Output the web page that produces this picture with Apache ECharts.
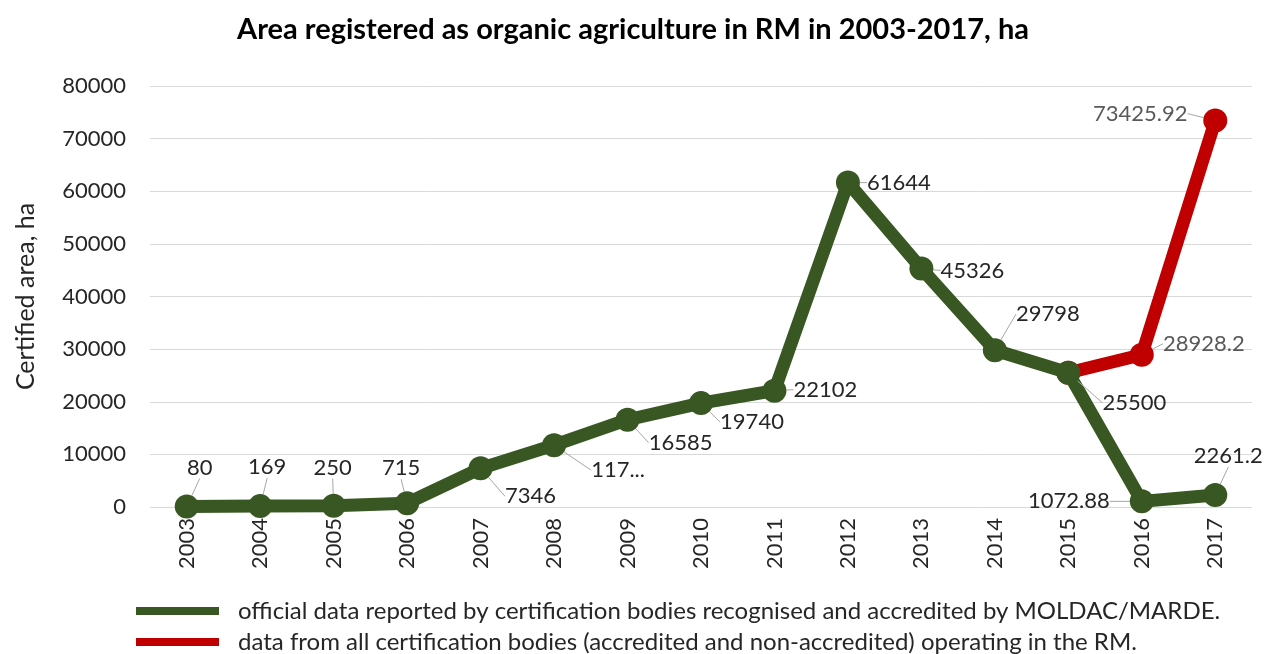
<!DOCTYPE html>
<html>
<head>
<meta charset="utf-8">
<script src="https://cdn.jsdelivr.net/npm/echarts@6/dist/echarts.min.js"></script>
<style>
  html, body { margin: 0; padding: 0; background: #fff; }
  #chart { width: 1266px; height: 654px; }
</style>
</head>
<body>
<div id="chart"></div>
<script>
var years = ['2003', '2004', '2005', '2006', '2007', '2008', '2009', '2010',
             '2011', '2012', '2013', '2014', '2015', '2016', '2017'];

// official data (MOLDAC/MARDE)
var officialValues = [80, 169, 250, 715, 7346, 11750, 16585, 19740,
                      22102, 61644, 45326, 29798, 25500, 1072.88, 2261.2];
var officialLabels = ['80', '169', '250', '715', '7346', '117...', '16585', '19740',
                      '22102', '61644', '45326', '29798', '25500', '1072.88', '2261.2'];

// all certification bodies
var allValues = [null, null, null, null, null, null, null, null,
                 null, null, null, null, 25500, 28928.2, 73425.92];

var yTicks = [0, 10000, 20000, 30000, 40000, 50000, 60000, 70000, 80000];

var seriesNames = [
  'official data reported by certification bodies recognised and accredited by MOLDAC/MARDE.',
  'data from all certification bodies (accredited and non-accredited) operating in the RM.'
];

// label centre offsets from the point, px
var officialOffsets = [[13, -39], [7, -39], [-1, -38], [-6, -35], [50, 28], [64, 25], [53, 23], [51, 19],
                       [51, -1], [51, 0], [51, 2], [53, -36], [66, 30], [-73, 0], [13, -39]];
var allOffsets = {13: [62, -11], 14: [-75, -7]};

var FONT = 'Lato';
var GREEN = '#385723';
var RED = '#c00000';

var chart = echarts.init(document.getElementById('chart'));

var legendBase = {
  orient: 'vertical',
  left: 136,
  padding: 0,
  itemWidth: 83,
  itemHeight: 8,
  icon: 'rect',
  textStyle: { fontFamily: FONT, fontSize: 24, color: '#262626', padding: [0, 0, 0, 14] }
};

var option = {
  animation: false,
  title: {
    text: 'Area registered as organic agriculture in RM in 2003-2017, ha',
    left: 'center',
    top: 10,
    textStyle: { fontFamily: FONT, fontSize: 29, fontWeight: 'bold', color: '#000' }
  },
  grid: { left: 150, right: 14, top: 86, bottom: 147 },
  legend: [
    Object.assign({}, legendBase, { top: 599, data: [seriesNames[0]] }),
    Object.assign({}, legendBase, { top: 630, data: [seriesNames[1]] })
  ],
  xAxis: {
    type: 'category',
    data: years,
    axisLine: { show: false },
    axisTick: { show: false },
    axisLabel: { rotate: 90, fontFamily: FONT, fontSize: 22, color: '#262626', margin: 11 }
  },
  yAxis: {
    type: 'value',
    min: yTicks[0],
    max: yTicks[yTicks.length - 1],
    interval: yTicks[1] - yTicks[0],
    name: 'Certified area, ha',
    nameLocation: 'middle',
    nameGap: 112,
    nameTextStyle: { fontFamily: FONT, fontSize: 25, color: '#262626' },
    axisLabel: {
      fontFamily: FONT, fontSize: 22, color: '#262626', margin: 24,
      formatter: function (v) { return String(v); }
    },
    splitLine: { lineStyle: { color: '#d9d9d9', width: 1 } }
  },
  series: [
    {
      name: seriesNames[1],
      type: 'line',
      data: allValues,
      z: 2,
      symbol: 'circle',
      symbolSize: 24,
      lineStyle: { color: RED, width: 13 },
      itemStyle: { color: RED },
      label: {
        show: true,
        position: 'inside',
        fontFamily: FONT,
        fontSize: 22,
        color: '#595959',
        formatter: function (p) { return p.dataIndex === 12 ? '' : String(p.value); }
      },
      labelLine: { show: true, lineStyle: { color: '#a6a6a6', width: 1 } },
      labelLayout: function (p) {
        var o = allOffsets[p.dataIndex] || [0, 0];
        return { dx: o[0], dy: o[1] };
      }
    },
    {
      name: seriesNames[0],
      type: 'line',
      data: officialValues,
      z: 3,
      symbol: 'circle',
      symbolSize: 24,
      lineStyle: { color: GREEN, width: 13 },
      itemStyle: { color: GREEN },
      label: {
        show: true,
        position: 'inside',
        fontFamily: FONT,
        fontSize: 22,
        color: '#262626',
        formatter: function (p) { return officialLabels[p.dataIndex]; }
      },
      labelLine: { show: true, lineStyle: { color: '#a6a6a6', width: 1 } },
      labelLayout: function (p) {
        var o = officialOffsets[p.dataIndex];
        return { dx: o[0], dy: o[1] };
      }
    }
  ]
};

chart.setOption(option);
</script>
</body>
</html>
